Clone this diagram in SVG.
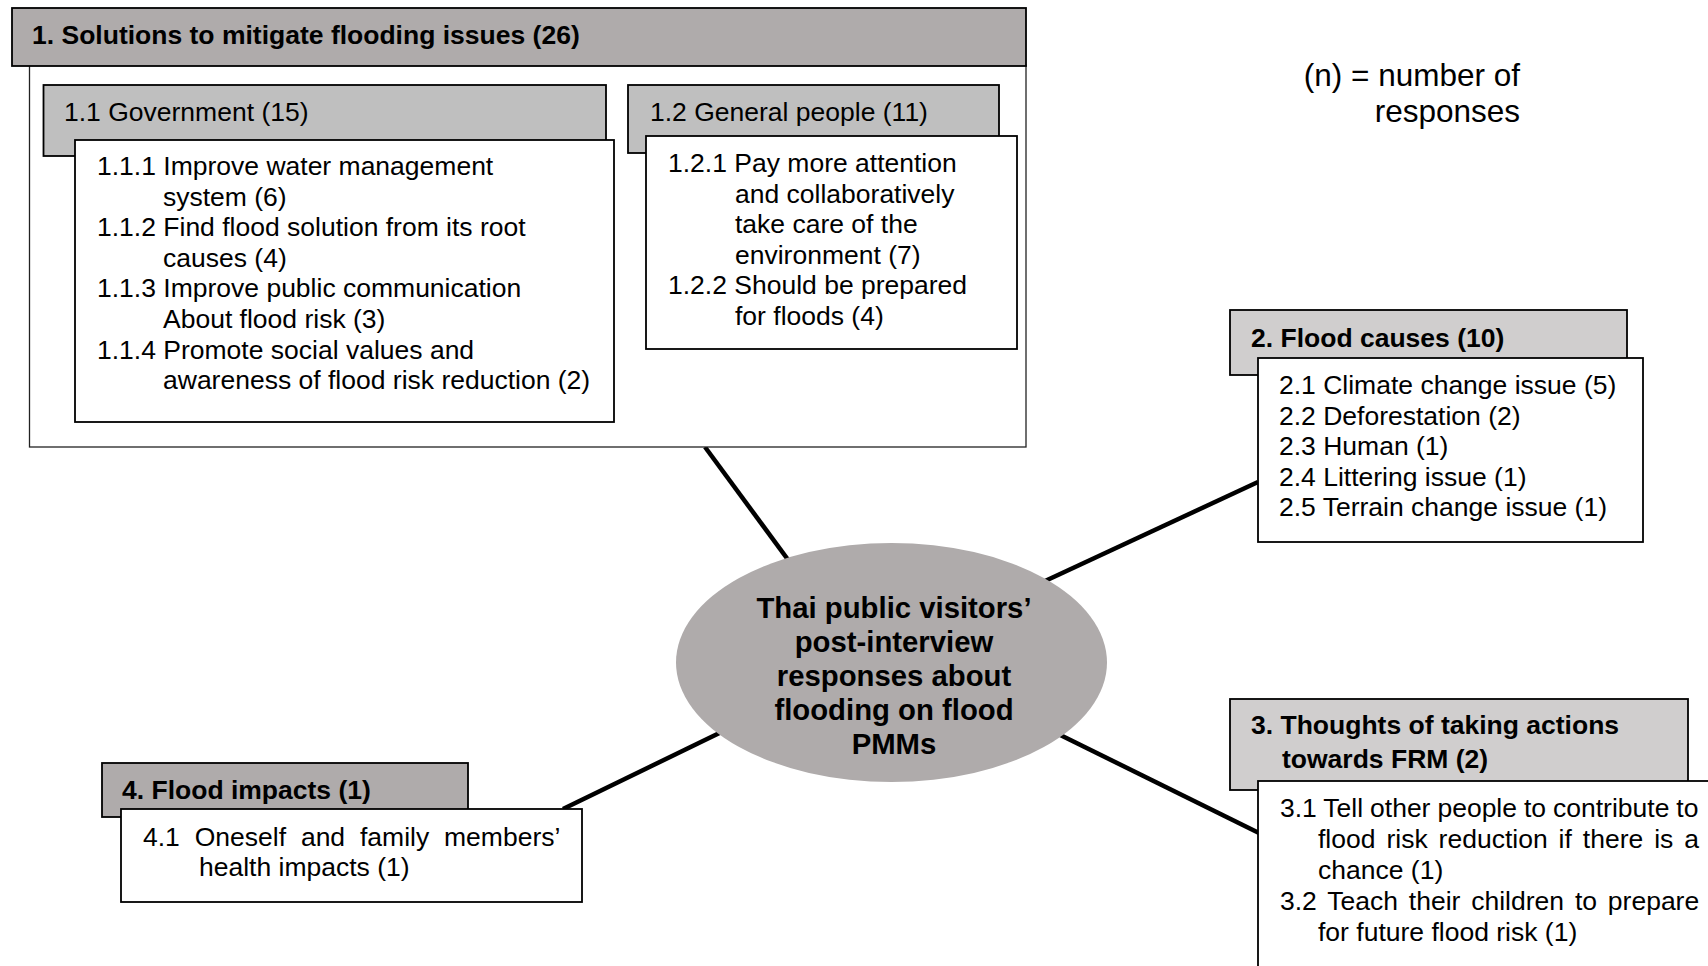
<svg xmlns="http://www.w3.org/2000/svg" width="1708" height="966" viewBox="0 0 1708 966">
  <style>
    .hdr-dark { fill: #AFABAB; stroke: #000; stroke-width: 1.8; }
    .hdr-mid { fill: #BFBFBF; stroke: #000; stroke-width: 1.8; }
    .hdr-light { fill: #D0CECE; stroke: #000; stroke-width: 1.8; }
    .panel { fill: #fff; stroke: #000; stroke-width: 1.8; }
    .frame { fill: #fff; stroke: #222; stroke-width: 1.3; }
    .t { font-family: "Liberation Sans", Arial, sans-serif; font-size: 26.5px; fill: #000; }
    .b { font-weight: bold; }
    .hub-text { font-family: "Liberation Sans", Arial, sans-serif; font-size: 29.3px; font-weight: bold; fill: #000; text-anchor: middle; }
    .legend { font-family: "Liberation Sans", Arial, sans-serif; font-size: 31.5px; fill: #000; text-anchor: end; }
    .link { stroke: #000; stroke-width: 4.5; fill: none; stroke-linecap: butt; }
  </style>

  <rect width="1708" height="966" fill="#fff"/>

  <!-- spokes from the hub to each category -->
  <g id="connectors">
    <line class="link" x1="705" y1="447" x2="800" y2="576"/>
    <line class="link" x1="1030" y1="588" x2="1258" y2="482"/>
    <line class="link" x1="1040" y1="725" x2="1259" y2="833"/>
    <line class="link" x1="740" y1="723" x2="563" y2="809"/>
  </g>

  <!-- 1. Solutions -->
  <g id="solutions">
    <rect class="frame" x="29.5" y="65" width="996.5" height="382"/>
    <rect class="hdr-dark" x="12" y="8" width="1014" height="58"/>
    <text class="t b" x="32" y="44">1. Solutions to mitigate flooding issues (26)</text>
  </g>

  <g id="government">
    <rect class="hdr-mid" x="43.5" y="85" width="562.5" height="71"/>
    <text class="t" x="64" y="121">1.1 Government (15)</text>
    <rect class="panel" x="75" y="140" width="539" height="282"/>
    <text class="t" x="97" y="175">1.1.1 Improve water management</text>
    <text class="t" x="163" y="205.6">system (6)</text>
    <text class="t" x="97" y="236.2">1.1.2 Find flood solution from its root</text>
    <text class="t" x="163" y="266.8">causes (4)</text>
    <text class="t" x="97" y="297.4">1.1.3 Improve public communication</text>
    <text class="t" x="163" y="328">About flood risk (3)</text>
    <text class="t" x="97" y="358.6">1.1.4 Promote social values and</text>
    <text class="t" x="163" y="389.2">awareness of flood risk reduction (2)</text>
  </g>

  <g id="general-people">
    <rect class="hdr-mid" x="628" y="85" width="371" height="68"/>
    <text class="t" x="650" y="121">1.2 General people (11)</text>
    <rect class="panel" x="646" y="136" width="371" height="213"/>
    <text class="t" x="668" y="172">1.2.1 Pay more attention</text>
    <text class="t" x="735" y="202.6">and collaboratively</text>
    <text class="t" x="735" y="233.2">take care of the</text>
    <text class="t" x="735" y="263.8">environment (7)</text>
    <text class="t" x="668" y="294.4">1.2.2 Should be prepared</text>
    <text class="t" x="735" y="325">for floods (4)</text>
  </g>

  <!-- legend -->
  <g id="legend">
    <text class="legend" x="1520" y="86">(n) = number of</text>
    <text class="legend" x="1520" y="122">responses</text>
  </g>

  <!-- 2. Flood causes -->
  <g id="causes">
    <rect class="hdr-light" x="1230" y="310" width="397" height="65"/>
    <text class="t b" x="1251" y="347">2. Flood causes (10)</text>
    <rect class="panel" x="1258" y="358" width="385" height="184"/>
    <text class="t" x="1279" y="394">2.1 Climate change issue (5)</text>
    <text class="t" x="1279" y="424.5">2.2 Deforestation (2)</text>
    <text class="t" x="1279" y="455">2.3 Human (1)</text>
    <text class="t" x="1279" y="485.5">2.4 Littering issue (1)</text>
    <text class="t" x="1279" y="516">2.5 Terrain change issue (1)</text>
  </g>

  <!-- 3. Thoughts of taking actions -->
  <g id="actions">
    <rect class="hdr-light" x="1230" y="699" width="458" height="91"/>
    <text class="t b" x="1251" y="734">3. Thoughts of taking actions</text>
    <text class="t b" x="1282" y="768">towards FRM (2)</text>
    <rect class="panel" x="1258" y="781" width="480" height="220"/>
    <text class="t" x="1280" y="817" word-spacing="-0.4">3.1 Tell other people to contribute to</text>
    <text class="t" x="1318" y="848" word-spacing="3.6">flood risk reduction if there is a</text>
    <text class="t" x="1318" y="879">chance (1)</text>
    <text class="t" x="1280" y="910" word-spacing="3.5">3.2 Teach their children to prepare</text>
    <text class="t" x="1318" y="941">for future flood risk (1)</text>
  </g>

  <!-- 4. Flood impacts -->
  <g id="impacts">
    <rect class="hdr-dark" x="102" y="763" width="366" height="54"/>
    <text class="t b" x="122" y="799">4. Flood impacts (1)</text>
    <rect class="panel" x="121" y="809" width="461" height="93"/>
    <text class="t" x="143" y="846" word-spacing="7.5">4.1 Oneself and family members’</text>
    <text class="t" x="199" y="876">health impacts (1)</text>
  </g>

  <!-- central hub -->
  <g id="hub">
    <ellipse cx="891.5" cy="662.5" rx="215.5" ry="119.5" fill="#AFABAB"/>
    <text class="hub-text" x="894" y="618">Thai public visitors’</text>
    <text class="hub-text" x="894" y="652">post-interview</text>
    <text class="hub-text" x="894" y="686">responses about</text>
    <text class="hub-text" x="894" y="720">flooding on flood</text>
    <text class="hub-text" x="894" y="754">PMMs</text>
  </g>
</svg>
